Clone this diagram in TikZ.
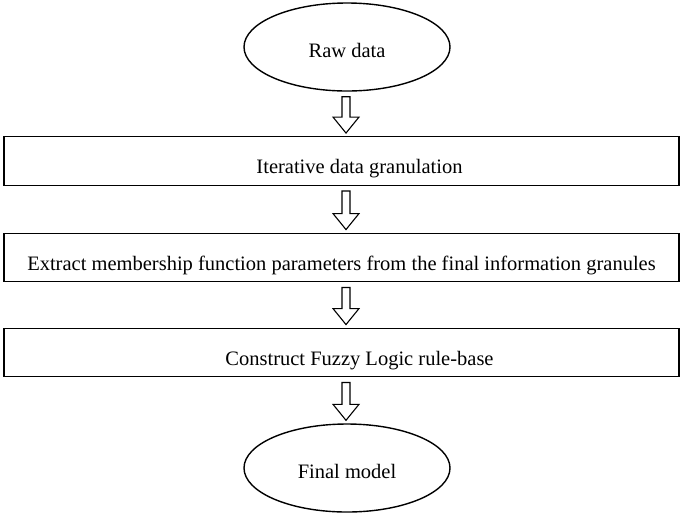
\documentclass[tikz,border=0pt]{standalone}
\usepackage{fontspec}
\setmainfont{Liberation Serif}
\usetikzlibrary{shapes.geometric,calc}
\newcommand\lowtext[2]{\raisebox{-#1}[0pt][0pt]{#2}}
\tikzset{
  ell/.style={draw, line width=1.4pt, ellipse, minimum width=206pt, minimum height=88pt, inner sep=0pt, font=\fontsize{20.5}{24}\selectfont},
  stepbox/.style={draw, line width=1.4pt, rectangle, minimum width=675pt, minimum height=48.5pt, inner sep=0pt, font=\fontsize{20.5}{24}\selectfont},
  blk/.style={draw, line width=1.1pt, fill=white, line join=miter}
}
\newcommand\blockarr[2]{%
  \draw[blk] let \p1=($(#1.south)+(0,-5pt)$), \p2=($(#2.north)+(0,3pt)$) in
    (346pt-4pt,\y1) -- (346pt+4pt,\y1) -- (346pt+4pt,\y2+16pt) -- (346pt+13pt,\y2+16pt)
    -- (346pt,\y2) -- (346pt-13pt,\y2+16pt) -- (346pt-4pt,\y2+16pt) -- cycle;}
\begin{document}
\begin{tikzpicture}[x=1pt,y=-1pt]
\useasboundingbox (0,0) rectangle (682,515);
\node[ell] (raw) at (347,47) {\lowtext{10pt}{Raw data}};
\node[stepbox] (b1) at (341.5,161) {\hspace*{36pt}\lowtext{12.5pt}{Iterative data granulation}};
\node[stepbox] (b2) at (341.5,257.5) {\lowtext{12.5pt}{Extract membership function parameters from the final information granules}};
\node[stepbox] (b3) at (341.5,352.5) {\hspace*{36pt}\lowtext{13pt}{Construct Fuzzy Logic rule-base}};
\node[ell] (fin) at (347,468) {\lowtext{10pt}{Final model}};
\blockarr{raw}{b1}
\blockarr{b1}{b2}
\blockarr{b2}{b3}
\blockarr{b3}{fin}
\end{tikzpicture}
\end{document}
